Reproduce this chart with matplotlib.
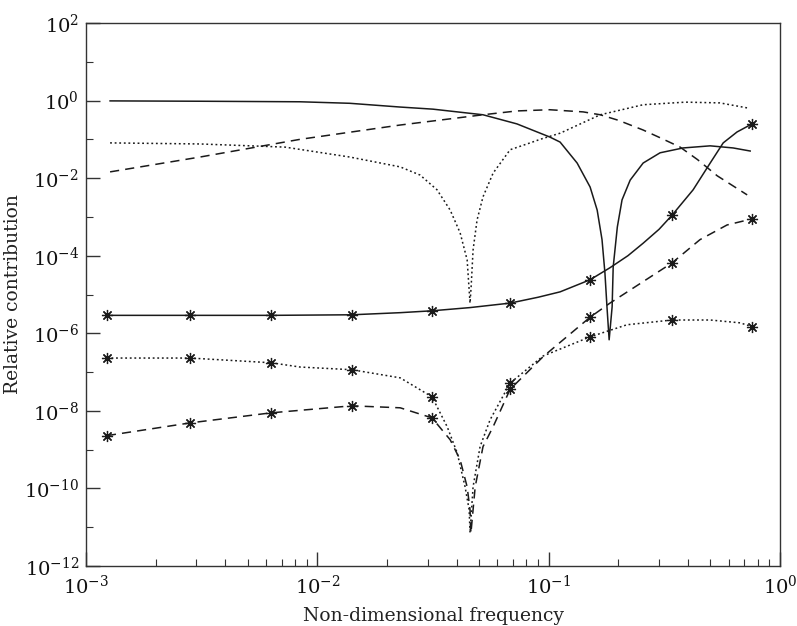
import math
import matplotlib
matplotlib.use("Agg")
import matplotlib.pyplot as plt
import matplotlib.ticker as tck

# upper curves (no markers)
solid_x = [1.27e-3, 3.11e-3, 8.41e-3, 1.38e-2, 2.28e-2, 3.16e-2, 5.20e-2, 7.29e-2, 0.101,
           0.112, 0.1327, 0.151, 0.162, 0.170, 0.175, 0.1786, 0.1825, 0.188, 0.190,
           0.198, 0.2075, 0.225, 0.256, 0.303, 0.381, 0.499, 0.627, 0.743]
solid_y = [0.98, 0.96, 0.93, 0.85, 0.68, 0.60, 0.43, 0.25, 0.115,
           0.085, 0.0245, 5.9e-3, 1.5e-3, 2.6e-4, 3.6e-5, 4.8e-6, 6.8e-7, 4.8e-6, 5.1e-5,
           5.5e-4, 2.75e-3, 8.9e-3, 0.0245, 0.045, 0.060, 0.068, 0.060, 0.050]

dash_x = [1.27e-3, 3.11e-3, 8.41e-3, 2.28e-2, 5.20e-2, 7.29e-2, 0.101, 0.141, 0.167,
          0.200, 0.256, 0.303, 0.370, 0.440, 0.535, 0.721]
dash_y = [0.0145, 0.035, 0.10, 0.234, 0.43, 0.54, 0.58, 0.51, 0.43,
          0.31, 0.174, 0.11, 0.063, 0.030, 0.0115, 3.7e-3]

dot_x = [1.27e-3, 3.11e-3, 7.25e-3, 1.38e-2, 2.28e-2, 2.78e-2, 3.29e-2, 3.75e-2, 4.14e-2,
         4.44e-2, 4.52e-2, 4.57e-2, 4.62e-2, 4.71e-2, 4.90e-2, 5.20e-2, 5.75e-2, 6.81e-2,
         8.31e-2, 9.18e-2, 0.112, 0.167, 0.256, 0.39, 0.55, 0.728]
dot_y = [0.081, 0.076, 0.063, 0.035, 0.0195, 0.012, 5.0e-3, 1.5e-3, 3.9e-4,
         7.8e-5, 1.58e-5, 6e-6, 1.58e-5, 1.4e-4, 8.3e-4, 3.3e-3, 0.0135, 0.054,
         0.081, 0.10, 0.144, 0.43, 0.78, 0.91, 0.87, 0.64]

# lower curves (with markers)
mark_x = [1.23e-3, 2.82e-3, 6.31e-3, 1.41e-2, 3.13e-2, 6.81e-2, 0.151, 0.341, 0.757]
msolid_y = [2.9e-6, 2.9e-6, 2.9e-6, 3.0e-6, 3.8e-6, 6.0e-6, 2.4e-5, 1.1e-3, 0.25]
mdot_y = [2.3e-7, 2.3e-7, 1.74e-7, 1.15e-7, 2.3e-8, 5.2e-8, 8.1e-7, 2.2e-6, 1.48e-6]
mdash_y = [2.3e-9, 4.9e-9, 8.9e-9, 1.35e-8, 6.6e-9, 3.6e-8, 2.6e-6, 6.5e-5, 8.9e-4]

msolid_lx = [1.23e-3, 2.82e-3, 6.31e-3, 1.41e-2, 2.28e-2, 3.13e-2, 4.57e-2, 6.81e-2, 0.090,
             0.112, 0.151, 0.184, 0.220, 0.256, 0.30, 0.341, 0.421, 0.499, 0.568, 0.652, 0.757]
msolid_ly = [2.9e-6, 2.9e-6, 2.9e-6, 3.0e-6, 3.4e-6, 3.8e-6, 4.6e-6, 6.0e-6, 8.5e-6,
             1.17e-5, 2.4e-5, 4.9e-5, 1.0e-4, 2.1e-4, 4.8e-4, 1.1e-3, 5.0e-3, 0.0245, 0.081, 0.155, 0.25]

mdot_lx = [1.23e-3, 2.82e-3, 6.31e-3, 8.41e-3, 1.41e-2, 2.28e-2, 3.13e-2, 3.64e-2, 4.02e-2,
           4.35e-2, 4.53e-2, 4.57e-2, 4.71e-2, 5.05e-2, 5.58e-2, 6.81e-2, 9.46e-2, 0.151, 0.218,
           0.341, 0.499, 0.672, 0.757]
mdot_ly = [2.3e-7, 2.3e-7, 1.74e-7, 1.35e-7, 1.15e-7, 7.1e-8, 2.3e-8, 3.9e-9, 8.3e-10,
           1.1e-10, 2.8e-11, 7.2e-12, 1.1e-10, 1.2e-9, 5.9e-9, 5.2e-8, 2.6e-7, 8.1e-7, 1.66e-6,
           2.2e-6, 2.2e-6, 1.86e-6, 1.48e-6]

mdash_lx = [1.23e-3, 2.82e-3, 6.31e-3, 1.41e-2, 2.28e-2, 3.13e-2, 3.75e-2, 4.14e-2, 4.44e-2,
            4.57e-2, 4.61e-2, 4.81e-2, 5.20e-2, 5.75e-2, 6.81e-2, 9.46e-2, 0.151, 0.184,
            0.341, 0.451, 0.590, 0.757]
mdash_ly = [2.3e-9, 4.9e-9, 8.9e-9, 1.35e-8, 1.2e-8, 6.6e-9, 1.8e-9, 5.5e-10, 1.1e-10,
            2.8e-11, 7e-12, 1.1e-10, 1.2e-9, 3.9e-9, 3.6e-8, 2.5e-7, 2.6e-6, 6e-6,
            6.5e-5, 2.6e-4, 6.2e-4, 8.9e-4]

plt.rcParams['font.family'] = 'DejaVu Serif'
plt.rcParams['mathtext.fontset'] = 'dejavuserif'

fig = plt.figure(figsize=(7.97, 6.26), dpi=100)
ax = fig.add_axes([0.108, 0.0958, 0.8707, 0.8675])

ink = '#1a1a1a'
lw = 1.1
dashed = (0, (6, 4))
dotted = (0, (1.2, 1.8))
ax.plot(solid_x, solid_y, color=ink, lw=lw, ls='-')
ax.plot(dash_x, dash_y, color=ink, lw=lw, ls=dashed)
ax.plot(dot_x, dot_y, color=ink, lw=lw, ls=dotted)

ax.plot(msolid_lx, msolid_ly, color=ink, lw=lw, ls='-')
ax.plot(mdot_lx, mdot_ly, color=ink, lw=lw, ls=dotted)
ax.plot(mdash_lx, mdash_ly, color=ink, lw=lw, ls=dashed)

ast = (8, 2, 0)
for ys in (msolid_y, mdot_y, mdash_y):
    ax.plot(mark_x, ys, ls='none', marker=ast, ms=8, mew=0.9, color=ink)

ax.set_xscale('log')
ax.set_yscale('log')
ax.set_xlim(1e-3, 1)
ax.set_ylim(1e-12, 1e2)

ax.yaxis.set_major_locator(tck.FixedLocator([10.0 ** k for k in range(-12, 3, 2)]))
ax.yaxis.set_minor_locator(tck.FixedLocator([10.0 ** k for k in range(-11, 2, 2)]))
ax.yaxis.set_minor_formatter(tck.NullFormatter())
ax.xaxis.set_major_locator(tck.LogLocator(base=10, numticks=10))
ax.xaxis.set_minor_locator(tck.LogLocator(base=10, subs=range(2, 10), numticks=20))
ax.xaxis.set_minor_formatter(tck.NullFormatter())

fmt = tck.FuncFormatter(lambda v, p: r'$10^{%d}$' % round(math.log10(v)))
ax.xaxis.set_major_formatter(fmt)
ax.yaxis.set_major_formatter(fmt)

ax.tick_params(which='major', direction='in', length=10, width=1, labelsize=14,
               top=False, right=False, color='#333333', labelcolor='#111111')
ax.tick_params(which='minor', direction='in', length=5, width=0.8,
               top=False, right=False, color='#333333')
ax.tick_params(axis='x', which='major', pad=6)
ax.tick_params(axis='y', which='major', pad=5)

for s in ax.spines.values():
    s.set_linewidth(1.0)
    s.set_color('#333333')

ax.set_xlabel('Non-dimensional frequency', fontsize=13.5, color='#222222')
ax.xaxis.set_label_coords(0.5, -0.075)
ax.set_ylabel('Relative contribution', fontsize=13.5, color='#222222')
ax.yaxis.set_label_coords(-0.092, 0.5)

fig.savefig('out.png', dpi=100)
